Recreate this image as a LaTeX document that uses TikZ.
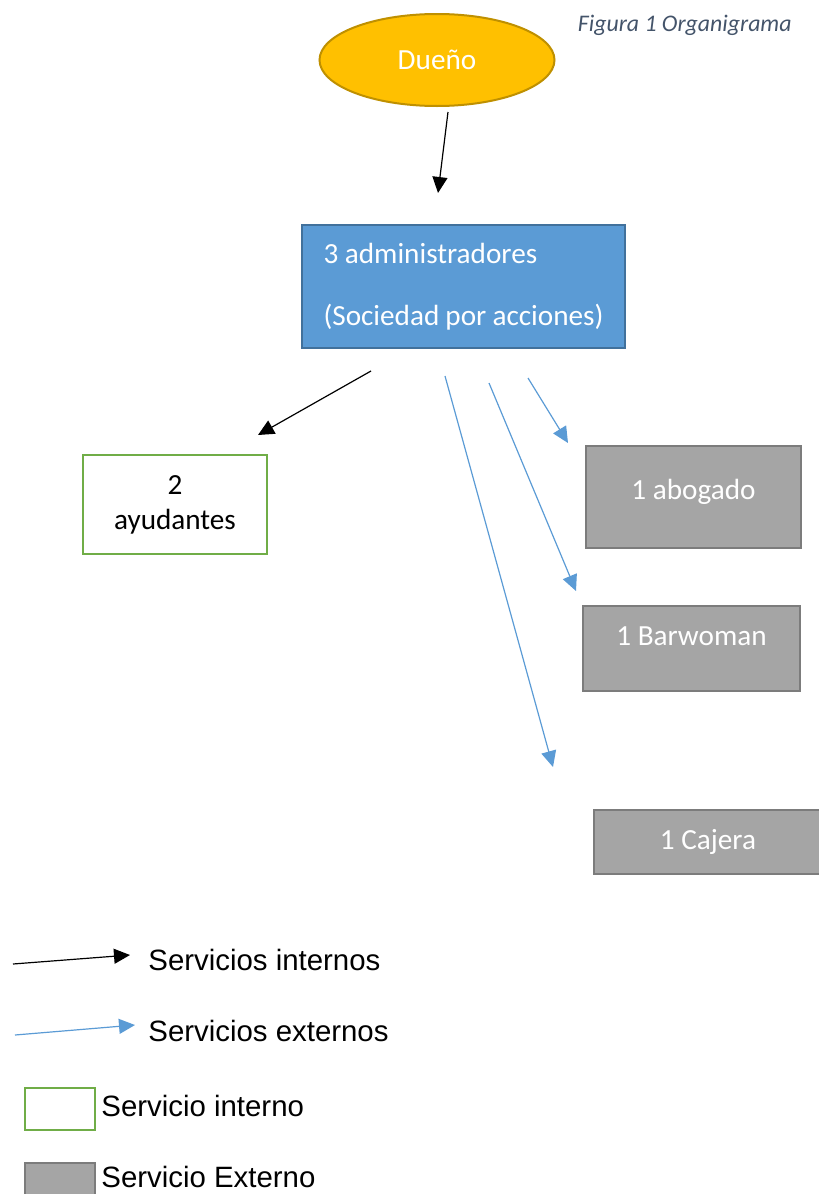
\documentclass[tikz,border=0pt]{standalone}
\usepackage{fontspec}
\setmainfont{Carlito}
\newfontfamily\arialfont{Liberation Sans}
\usetikzlibrary{shapes.geometric,arrows.meta}
\definecolor{duenofill}{HTML}{FFC000}
\definecolor{duenoline}{HTML}{BF9000}
\definecolor{adminfill}{HTML}{5B9BD5}
\definecolor{adminline}{HTML}{41719C}
\definecolor{interno}{HTML}{70AD47}
\definecolor{externofill}{HTML}{A5A5A5}
\definecolor{externoline}{HTML}{7C7C7C}
\definecolor{captioncol}{HTML}{44546A}

\begin{document}
\begin{tikzpicture}[x=0.5pt,y=-0.5pt,
  txt/.style={font=\fontsize{14.6}{17.5}\selectfont},
  intbox/.style={draw=interno,line width=1pt,fill=white,txt,align=center,inner sep=0pt},
  extbox/.style={draw=externoline,line width=1pt,fill=externofill,text=white,txt,inner sep=0pt},
  intarrow/.style={-{Triangle[length=8pt,width=7.5pt]},line width=0.6pt,black},
  extarrow/.style={-{Triangle[length=8pt,width=7.5pt]},line width=0.6pt,adminfill},
  legend/.style={anchor=west,font=\arialfont\fontsize{14.7}{18}\selectfont,inner sep=0pt}]
\useasboundingbox (0,0) rectangle (819,1194);

\node[ellipse,draw=duenoline,line width=1pt,fill=duenofill,text=white,txt,
  minimum width=117.5pt,minimum height=46pt,inner sep=0pt] (D) at (437,60) {Dueño};
\node[anchor=east,text=captioncol,font=\itshape\fontsize{11.9}{14}\selectfont,inner sep=0pt]
  (fig) at (792,25) {Figura 1 Organigrama};

\node[draw=adminline,line width=1pt,fill=adminfill,text=white,txt,align=flush left,
  minimum width=161.5pt,minimum height=61.5pt,text width=140pt,inner xsep=10.5pt]
  (A) at (463.5,286.5) {3 administradores\\[13.5pt](Sociedad por acciones)};

\node[intbox,minimum width=92pt,minimum height=49.5pt] (Y) at (175,504.5) {2\\ayudantes};

\node[extbox,minimum width=107.5pt,minimum height=51pt,text depth=8pt] (AB) at (693.5,497) {1 abogado};
\node[extbox,minimum width=108.5pt,minimum height=42.5pt,text depth=12pt] (BW) at (691.5,648.5) {1 Barwoman};
\node[extbox,minimum width=114pt,minimum height=32pt] (CJ) at (708,842) {1 Cajera};

\coordinate (d1) at (448,112);
\coordinate (d2) at (438,193);
\draw[intarrow] (d1) -- (d2);

\coordinate (y1) at (371,371);
\coordinate (y2) at (258,435);
\draw[intarrow] (y1) -- (y2);

\coordinate (ab1) at (528,378);
\coordinate (ab2) at (568,443);
\draw[extarrow] (ab1) -- (ab2);

\coordinate (bw1) at (489,383);
\coordinate (bw2) at (576,591);
\draw[extarrow] (bw1) -- (bw2);

\coordinate (cj1) at (445,376);
\coordinate (cj2) at (553,767);
\draw[extarrow] (cj1) -- (cj2);

\coordinate (li1) at (13,964);
\coordinate (li2) at (130,955);
\draw[intarrow] (li1) -- (li2);
\node[legend] (LI) at (148,960) {Servicios internos};

\coordinate (le1) at (15,1035);
\coordinate (le2) at (135,1025);
\draw[extarrow] (le1) -- (le2);
\node[legend] (LE) at (148,1031) {Servicios externos};

\node[intbox,minimum width=35pt,minimum height=21pt] (bi) at (60,1109) {};
\node[legend] (LBI) at (101,1106) {Servicio interno};

\node[extbox,minimum width=35pt,minimum height=20pt] (be) at (60,1183) {};
\node[legend] (LBE) at (101,1177) {Servicio Externo};
\end{tikzpicture}
\end{document}
